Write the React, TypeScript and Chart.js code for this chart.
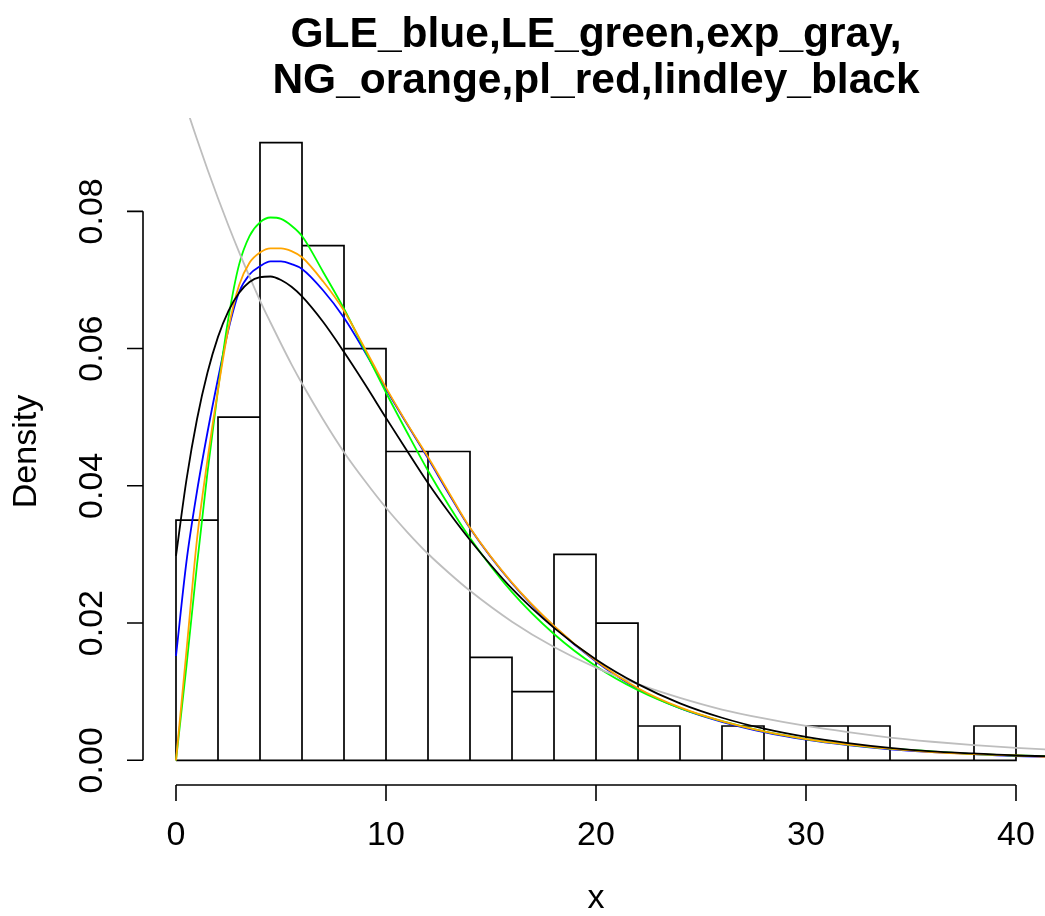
import React, { useEffect, useRef } from "react";
import { Chart, registerables } from "chart.js";

Chart.register(...registerables);

const TITLE_LINES = ["GLE_blue,LE_green,exp_gray,", "NG_orange,pl_red,lindley_black"];
const X_LABEL = "x";
const Y_LABEL = "Density";

// histogram bins (width 2) and densities
const binEdges = [0, 2, 4, 6, 8, 10, 12, 14, 16, 18, 20, 22, 24, 26, 28, 30, 32, 34, 36, 38, 40];
const binDensity = [
  0.035, 0.05, 0.09, 0.075, 0.06, 0.045, 0.045, 0.015, 0.01, 0.03,
  0.02, 0.005, 0, 0.005, 0, 0.005, 0.005, 0, 0, 0.005,
];

// x positions where the fitted densities were read
const curveX = [
  0, 0.5, 1, 1.5, 2, 2.5, 3, 3.5, 4, 4.5, 5, 5.5, 6, 7, 8, 9, 10, 11, 12, 13, 14,
  16, 18, 20, 22, 24, 26, 28, 30, 32, 34, 36, 38, 40, 41.4,
];
const gleBlue = [
  0.0152, 0.029, 0.0392, 0.0478, 0.0556, 0.0628, 0.0682, 0.0708, 0.072, 0.0727, 0.0727, 0.0723, 0.0716, 0.0685, 0.0645, 0.0595, 0.0541, 0.049, 0.044, 0.0388, 0.0338,
  0.0258, 0.0195, 0.0144, 0.0104, 0.0076, 0.0056, 0.0041, 0.003, 0.0022, 0.0016, 0.0012, 0.0009, 0.0006, 0.0005,
];
const leGreen = [
  0, 0.0138, 0.0285, 0.042, 0.054, 0.0645, 0.0722, 0.0764, 0.0784, 0.0791, 0.0789, 0.0779, 0.0764, 0.0712, 0.0658, 0.0597, 0.0536, 0.0478, 0.0422, 0.0371, 0.0324,
  0.0245, 0.0184, 0.0137, 0.0102, 0.0076, 0.0057, 0.0042, 0.0031, 0.0023, 0.0017, 0.0013, 0.0009, 0.0007, 0.0006,
];
const expGray = [
  0.1, 0.0951, 0.0905, 0.0861, 0.0819, 0.0779, 0.0741, 0.0705, 0.067, 0.0638, 0.0607, 0.0577, 0.0549, 0.0497, 0.0449, 0.0407, 0.0368, 0.0333, 0.0301, 0.0273, 0.0247,
  0.0202, 0.0165, 0.0135, 0.0111, 0.0091, 0.0074, 0.0061, 0.005, 0.0041, 0.0033, 0.0027, 0.0022, 0.0018, 0.0016,
];
const ngOrange = [
  0, 0.016, 0.0322, 0.0438, 0.054, 0.063, 0.0692, 0.0725, 0.074, 0.0746, 0.0746, 0.0742, 0.0733, 0.0698, 0.0655, 0.06, 0.0543, 0.0491, 0.0442, 0.039, 0.0339,
  0.0259, 0.0196, 0.0145, 0.0105, 0.0077, 0.0057, 0.0042, 0.0031, 0.0023, 0.0017, 0.0012, 0.0009, 0.0007, 0.0005,
];
const lindleyBlack = [
  0.0298, 0.0409, 0.0497, 0.0565, 0.0617, 0.0655, 0.0681, 0.0697, 0.0704, 0.0705, 0.07, 0.069, 0.0676, 0.0639, 0.0595, 0.0548, 0.0499, 0.0451, 0.0404, 0.0361, 0.0321,
  0.025, 0.0193, 0.0147, 0.0111, 0.0083, 0.0062, 0.0046, 0.0034, 0.0025, 0.0018, 0.0013, 0.001, 0.0007, 0.0006,
];

const xTicks = [0, 10, 20, 30, 40];
const xTickLabels = ["0", "10", "20", "30", "40"];
const yTicks = [0, 0.02, 0.04, 0.06, 0.08];
const yTickLabels = ["0.00", "0.02", "0.04", "0.06", "0.08"];

const FONT = '"Liberation Sans", Arial, Helvetica, sans-serif';

function toPoints(xs: number[], ys: number[]) {
  return xs.map((x, i) => ({ x, y: ys[i] }));
}

function histOutline(edges: number[], dens: number[]) {
  const pts: { x: number; y: number }[] = [];
  for (let i = 0; i < dens.length; i++) {
    pts.push({ x: edges[i], y: 0 });
    pts.push({ x: edges[i], y: dens[i] });
    pts.push({ x: edges[i + 1], y: dens[i] });
    pts.push({ x: edges[i + 1], y: 0 });
  }
  pts.push({ x: edges[0], y: 0 });
  return pts;
}

const rAxesPlugin = {
  id: "rAxes",
  afterDraw(chart: any) {
    const { ctx, chartArea, scales } = chart;
    const xs = scales.x;
    const ys = scales.y;
    ctx.save();
    ctx.strokeStyle = "#000";
    ctx.fillStyle = "#000";
    ctx.lineWidth = 1.6;
    ctx.lineCap = "butt";

    // x axis
    const yAx = chartArea.bottom;
    ctx.beginPath();
    ctx.moveTo(xs.getPixelForValue(xTicks[0]), yAx);
    ctx.lineTo(xs.getPixelForValue(xTicks[xTicks.length - 1]), yAx);
    xTicks.forEach((t) => {
      const px = xs.getPixelForValue(t);
      ctx.moveTo(px, yAx);
      ctx.lineTo(px, yAx + 16);
    });
    ctx.stroke();

    // y axis
    const xAx = chartArea.left;
    ctx.beginPath();
    ctx.moveTo(xAx, ys.getPixelForValue(yTicks[0]));
    ctx.lineTo(xAx, ys.getPixelForValue(yTicks[yTicks.length - 1]));
    yTicks.forEach((t) => {
      const py = ys.getPixelForValue(t);
      ctx.moveTo(xAx, py);
      ctx.lineTo(xAx - 16, py);
    });
    ctx.stroke();

    ctx.font = `34px ${FONT}`;
    ctx.textAlign = "center";
    ctx.textBaseline = "alphabetic";
    xTicks.forEach((t, i) => {
      ctx.fillText(xTickLabels[i], xs.getPixelForValue(t), yAx + 60);
    });
    yTicks.forEach((t, i) => {
      ctx.save();
      ctx.translate(xAx - 41, ys.getPixelForValue(t));
      ctx.rotate(-Math.PI / 2);
      ctx.fillText(yTickLabels[i], 0, 0);
      ctx.restore();
    });

    // axis titles
    const cx = (chartArea.left + chartArea.right) / 2 + 2;
    ctx.fillText(X_LABEL, cx, yAx + 123);
    ctx.save();
    ctx.translate(xAx - 107, (chartArea.top + chartArea.bottom) / 2);
    ctx.rotate(-Math.PI / 2);
    ctx.fillText(Y_LABEL, 0, 0);
    ctx.restore();

    // main title
    ctx.font = `bold 42.5px ${FONT}`;
    ctx.fillText(TITLE_LINES[0], cx, 47);
    ctx.fillText(TITLE_LINES[1], cx, 93);
    ctx.restore();
  },
};

export default function App() {
  const canvasRef = useRef<HTMLCanvasElement | null>(null);

  useEffect(() => {
    document.body.style.margin = "0";
    const canvas = canvasRef.current;
    if (!canvas) return;
    const curve = (label: string, ys: number[], color: string, order: number) => ({
      type: "line" as const,
      label,
      data: toPoints(curveX, ys),
      borderColor: color,
      backgroundColor: color,
      borderWidth: 1.8,
      pointRadius: 0,
      fill: false,
      cubicInterpolationMode: "monotone" as const,
      order,
    });
    const chart = new Chart(canvas, {
      type: "line",
      data: {
        datasets: [
          {
            type: "line",
            label: "histogram",
            data: histOutline(binEdges, binDensity),
            borderColor: "#000",
            borderWidth: 1.7,
            pointRadius: 0,
            fill: false,
            tension: 0,
            borderJoinStyle: "miter",
            order: 10,
          },
          curve("GLE", gleBlue, "#0000FF", 5),
          curve("LE", leGreen, "#00FF00", 4),
          curve("exp", expGray, "#BEBEBE", 3),
          curve("NG", ngOrange, "#FFA500", 2),
          curve("lindley", lindleyBlack, "#000000", 1),
        ] as any,
      },
      options: {
        responsive: false,
        animation: false,
        devicePixelRatio: 1,
        layout: { padding: { left: 143, right: 0, top: 118, bottom: 131 } },
        plugins: {
          legend: { display: false },
          tooltip: { enabled: false },
          title: { display: false },
        },
        scales: {
          x: { type: "linear", display: false, min: -1.5714, max: 41.381 },
          y: { type: "linear", display: false, min: -0.0036, max: 0.0936 },
        },
      },
      plugins: [rAxesPlugin],
    });
    return () => chart.destroy();
  }, []);

  return (
    <div style={{ width: 1045, height: 916 }}>
      <canvas ref={canvasRef} width={1045} height={916} style={{ display: "block" }} />
    </div>
  );
}
